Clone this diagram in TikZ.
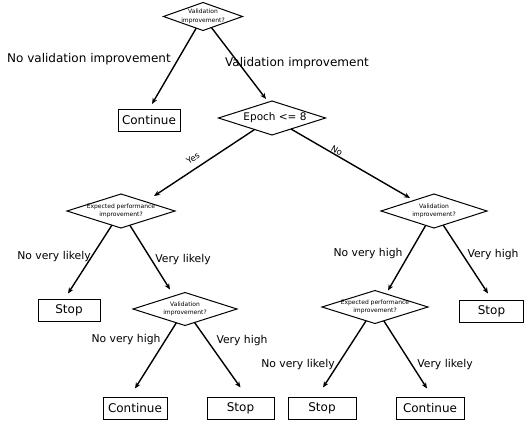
\documentclass[tikz,border=0pt]{standalone}
\usepackage{fontspec}
\setmainfont{DejaVu Sans}
\usetikzlibrary{shapes.geometric,arrows.meta}
\begin{document}
\begin{tikzpicture}[x=1pt,y=-1pt,
  dia/.style={draw, diamond, inner sep=0pt, outer sep=0pt, line width=1pt},
  dtext/.style={font=\fontsize{6}{8.5}\selectfont, align=center, inner sep=0pt},
  box/.style={draw, rectangle, inner sep=0pt, outer sep=0pt, line width=1pt,
              minimum height=22pt, font=\fontsize{12}{14}\selectfont},
  arr/.style={-{Stealth[length=6pt,width=5pt]}, line width=1.4pt},
  lab/.style={font=\fontsize{10.8}{13}\selectfont, inner sep=0pt},
  biglab/.style={font=\fontsize{12}{14}\selectfont, inner sep=0pt},
  yn/.style={font=\fontsize{8.5}{10}\selectfont, inner sep=0pt}]
\useasboundingbox (0,0) rectangle (524,423);

% decision diamonds
\node[dia, minimum width=79pt, minimum height=28pt] (q0) at (203,16.5) {};
\node[dtext] (q0t) at (q0) {Validation\\improvement?};
\node[dia, minimum width=107pt, minimum height=34pt] (q1) at (272,118) {};
\node[font=\fontsize{10.5}{12}\selectfont, inner sep=0pt] (q1t) at (275,118) {Epoch <= 8};
\node[dia, minimum width=108pt, minimum height=34pt] (q2) at (121,211) {};
\node[dtext] (q2t) at (q2) {Expected performance\\improvement?};
\node[dia, minimum width=106pt, minimum height=34pt] (q3) at (434,211) {};
\node[dtext] (q3t) at (q3) {Validation\\improvement?};
\node[dia, minimum width=104pt, minimum height=33pt] (q4) at (185,309) {};
\node[dtext] (q4t) at (q4) {Validation\\improvement?};
\node[dia, minimum width=106pt, minimum height=33pt] (q5) at (375,307) {};
\node[dtext] (q5t) at (q5) {Expected performance\\improvement?};

% outcome boxes
\node[box, minimum width=62pt] (c0) at (149,120) {Continue};
\node[box, minimum width=62pt] (s1) at (69,310.5) {Stop};
\node[box, minimum width=64pt] (s2) at (491.5,311.5) {Stop};
\node[box, minimum width=64pt] (c1) at (135,408.5) {Continue};
\node[box, minimum width=67pt] (s3) at (240.5,408.5) {Stop};
\node[box, minimum width=68pt] (s4) at (322,408.5) {Stop};
\node[box, minimum width=68pt] (c2) at (430,408.5) {Continue};

% connectors
\draw[arr] (q0) -- ([shift={(3,-5)}]c0.north);
\draw[arr] (q0) -- ([shift={(-6,-2)}]q1.north);
\draw[arr] (q1) -- ([shift={(33,2)}]q2.north);
\draw[arr] (q1) -- ([shift={(-24,4)}]q3.north);
\draw[arr] (q2) -- ([shift={(-1,-6)}]s1.north);
\draw[arr] (q2) -- ([shift={(-15,-3)}]q4.north);
\draw[arr] (q3) -- ([shift={(13,0)}]q5.north);
\draw[arr] (q3) -- ([shift={(-3.5,-7)}]s2.north);
\draw[arr] (q4) -- ([shift={(0,-9)}]c1.north);
\draw[arr] (q4) -- ([shift={(0,-10)}]s3.north);
\draw[arr] (q5) -- ([shift={(1,-10)}]s4.north);
\draw[arr] (q5) -- ([shift={(-3,-9)}]c2.north);

% branch labels
\node[biglab] (l0) at (89,59) {No validation improvement};
\node[biglab] (l1) at (297,63) {Validation improvement};
\node[yn, rotate=33] (l2) at (193,158) {Yes};
\node[yn, rotate=-30] (l3) at (337,151) {No};
\node[lab] (l4) at (54,257) {No very likely};
\node[lab] (l5) at (183,260) {Very likely};
\node[lab] (l6) at (368,254) {No very high};
\node[lab] (l7) at (493,255) {Very high};
\node[lab] (l8) at (126,340) {No very high};
\node[lab] (l9) at (242,341) {Very high};
\node[lab] (l10) at (298,365) {No very likely};
\node[lab] (l11) at (445,365) {Very likely};
\end{tikzpicture}
\end{document}
